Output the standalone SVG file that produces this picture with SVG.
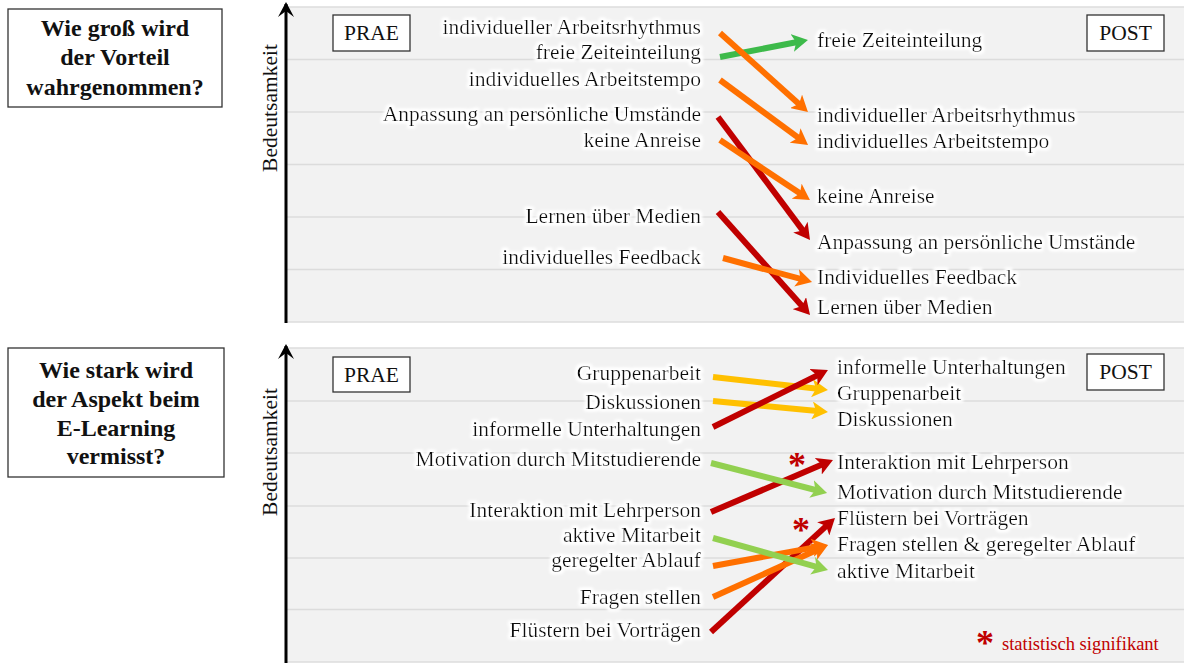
<svg xmlns="http://www.w3.org/2000/svg" width="1184" height="663" viewBox="0 0 1184 663">
<style>
.t{font-family:"Liberation Serif","Times New Roman",serif;font-size:21.5px;fill:#111}
.l{text-anchor:end}
.title{font-family:"Liberation Serif","Times New Roman",serif;font-size:24px;font-weight:bold;text-anchor:middle;fill:#111}
.box{fill:#fff;stroke:#333;stroke-width:1.3}
.grid{stroke:#dcdcdc;stroke-width:1.5}
.axis{stroke:#000;stroke-width:3;fill:none}
.a{stroke-width:6;fill:none}
.or{stroke:#ff7000}.gr{stroke:#3dba4a}.rd{stroke:#c00000}.ye{stroke:#ffc000}.lg{stroke:#92d050}
.star{font-family:"Liberation Serif","Times New Roman",serif;font-size:36px;font-weight:bold;fill:#c00000;text-anchor:middle}
</style>
<defs>
<filter id="glow" x="-10%" y="-40%" width="120%" height="180%">
<feMorphology in="SourceAlpha" operator="dilate" radius="1.5" result="d"/>
<feGaussianBlur in="d" stdDeviation="1.6" result="b"/>
<feFlood flood-color="#ffffff"/>
<feComposite in2="b" operator="in" result="g"/>
<feMerge><feMergeNode in="g"/><feMergeNode in="g"/><feMergeNode in="SourceGraphic"/></feMerge>
</filter>
<marker id="mOr" viewBox="0 0 16 18" refX="8" refY="9" markerWidth="16" markerHeight="18" markerUnits="userSpaceOnUse" orient="auto"><path d="M0,0 L16,9 L0,18 L4,9 z" fill="#ff7000"/></marker>
<marker id="mGr" viewBox="0 0 16 18" refX="8" refY="9" markerWidth="16" markerHeight="18" markerUnits="userSpaceOnUse" orient="auto"><path d="M0,0 L16,9 L0,18 L4,9 z" fill="#3dba4a"/></marker>
<marker id="mRd" viewBox="0 0 16 18" refX="8" refY="9" markerWidth="16" markerHeight="18" markerUnits="userSpaceOnUse" orient="auto"><path d="M0,0 L16,9 L0,18 L4,9 z" fill="#c00000"/></marker>
<marker id="mYe" viewBox="0 0 16 18" refX="8" refY="9" markerWidth="16" markerHeight="18" markerUnits="userSpaceOnUse" orient="auto"><path d="M0,0 L16,9 L0,18 L4,9 z" fill="#ffc000"/></marker>
<marker id="mLg" viewBox="0 0 16 18" refX="8" refY="9" markerWidth="16" markerHeight="18" markerUnits="userSpaceOnUse" orient="auto"><path d="M0,0 L16,9 L0,18 L4,9 z" fill="#92d050"/></marker>
<marker id="ax" viewBox="0 0 16 16" refX="8" refY="2" markerWidth="16" markerHeight="16" markerUnits="userSpaceOnUse" orient="0"><path d="M0,15 L8,0 L16,15 L8,9 z" fill="#000"/></marker>
</defs>
<rect width="1184" height="663" fill="#fff"/>

<g id="panel-top">
<rect x="287" y="7" width="897" height="315" fill="#f2f2f2"/>
<g class="grid">
<line x1="287" y1="7" x2="1184" y2="7"/><line x1="287" y1="59.5" x2="1184" y2="59.5"/><line x1="287" y1="112" x2="1184" y2="112"/><line x1="287" y1="164.5" x2="1184" y2="164.5"/><line x1="287" y1="217" x2="1184" y2="217"/><line x1="287" y1="269.5" x2="1184" y2="269.5"/><line x1="287" y1="322" x2="1184" y2="322"/>
</g>
<line class="axis" x1="286" y1="323" x2="286" y2="4" marker-end="url(#ax)"/>
<text class="t" transform="translate(277,108) rotate(-90)" text-anchor="middle">Bedeutsamkeit</text>
</g>

<g id="panel-bottom">
<rect x="287" y="348" width="897" height="314" fill="#f2f2f2"/>
<g class="grid">
<line x1="287" y1="348" x2="1184" y2="348"/><line x1="287" y1="401" x2="1184" y2="401"/><line x1="287" y1="453" x2="1184" y2="453"/><line x1="287" y1="506" x2="1184" y2="506"/><line x1="287" y1="558" x2="1184" y2="558"/><line x1="287" y1="609.5" x2="1184" y2="609.5"/><line x1="287" y1="662" x2="1184" y2="662"/>
</g>
<line class="axis" x1="286" y1="663" x2="286" y2="346" marker-end="url(#ax)"/>
<text class="t" transform="translate(277,452) rotate(-90)" text-anchor="middle">Bedeutsamkeit</text>
</g>

<g id="question-1">
<rect class="box" x="8" y="9" width="214" height="98"/>
<text class="title" x="115" y="36">Wie groß wird</text>
<text class="title" x="115" y="65">der Vorteil</text>
<text class="title" x="115" y="95">wahrgenommen?</text>
</g>
<g id="question-2">
<rect class="box" x="8" y="348" width="216" height="129"/>
<text class="title" x="116" y="378">Wie stark wird</text>
<text class="title" x="116" y="407">der Aspekt beim</text>
<text class="title" x="116" y="436">E-Learning</text>
<text class="title" x="116" y="464">vermisst?</text>
</g>

<g id="prae-1"><rect class="box" x="333" y="15" width="77" height="36"/><text class="t" x="371.5" y="40" text-anchor="middle">PRAE</text></g>
<g id="post-1"><rect class="box" x="1087" y="15" width="77" height="36"/><text class="t" x="1125.5" y="40" text-anchor="middle">POST</text></g>
<g id="prae-2"><rect class="box" x="333" y="357" width="77" height="35"/><text class="t" x="371.5" y="382" text-anchor="middle">PRAE</text></g>
<g id="post-2"><rect class="box" x="1087" y="354" width="77" height="36"/><text class="t" x="1125.5" y="379" text-anchor="middle">POST</text></g>

<g id="connectors">
<line class="a gr" x1="720" y1="57" x2="800.1" y2="41.5" marker-end="url(#mGr)"/>
<line class="a or" x1="720" y1="33" x2="802" y2="106.7" marker-end="url(#mOr)"/>
<line class="a or" x1="720" y1="80" x2="801.6" y2="140.2" marker-end="url(#mOr)"/>
<line class="a rd" x1="718" y1="117" x2="805.2" y2="233.6" marker-end="url(#mRd)"/>
<line class="a or" x1="720" y1="140" x2="803.3" y2="195.6" marker-end="url(#mOr)"/>
<line class="a rd" x1="718" y1="212" x2="804.7" y2="309" marker-end="url(#mRd)"/>
<line class="a or" x1="723" y1="258" x2="804.3" y2="279.9" marker-end="url(#mOr)"/>

<line class="a ye" x1="713" y1="377" x2="820" y2="389.1" marker-end="url(#mYe)"/>
<line class="a ye" x1="713" y1="401" x2="820" y2="411.2" marker-end="url(#mYe)"/>
<line class="a rd" x1="713" y1="427" x2="820.8" y2="373.6" marker-end="url(#mRd)"/>
<line class="a rd" x1="711" y1="512" x2="825.6" y2="463.1" marker-end="url(#mRd)"/>
<line class="a lg" x1="711" y1="463" x2="819.3" y2="491" marker-end="url(#mLg)"/>
<line class="a rd" x1="711" y1="632" x2="829.1" y2="523.4" marker-end="url(#mRd)"/>
<line class="a or" x1="713" y1="566" x2="820.1" y2="546.4" marker-end="url(#mOr)"/>
<line class="a or" x1="713" y1="597" x2="820.7" y2="548.3" marker-end="url(#mOr)"/>
<line class="a lg" x1="713" y1="538" x2="820.3" y2="567.9" marker-end="url(#mLg)"/>
</g>

<g id="labels-prae-1" filter="url(#glow)">
<text class="t l" x="701" y="34">individueller Arbeitsrhythmus</text>
<text class="t l" x="701" y="59">freie Zeiteinteilung</text>
<text class="t l" x="701" y="86">individuelles Arbeitstempo</text>
<text class="t l" x="701" y="121">Anpassung an persönliche Umstände</text>
<text class="t l" x="701" y="147">keine Anreise</text>
<text class="t l" x="701" y="223">Lernen über Medien</text>
<text class="t l" x="701" y="264">individuelles Feedback</text>
</g>
<g id="labels-post-1" filter="url(#glow)">
<text class="t" x="817" y="47">freie Zeiteinteilung</text>
<text class="t" x="817" y="122">individueller Arbeitsrhythmus</text>
<text class="t" x="817" y="148">individuelles Arbeitstempo</text>
<text class="t" x="817" y="203">keine Anreise</text>
<text class="t" x="817" y="249">Anpassung an persönliche Umstände</text>
<text class="t" x="817" y="284">Individuelles Feedback</text>
<text class="t" x="817" y="314">Lernen über Medien</text>
</g>
<g id="labels-prae-2" filter="url(#glow)">
<text class="t l" x="701" y="380">Gruppenarbeit</text>
<text class="t l" x="701" y="409">Diskussionen</text>
<text class="t l" x="701" y="436">informelle Unterhaltungen</text>
<text class="t l" x="701" y="466">Motivation durch Mitstudierende</text>
<text class="t l" x="701" y="517">Interaktion mit Lehrperson</text>
<text class="t l" x="701" y="542">aktive Mitarbeit</text>
<text class="t l" x="701" y="567">geregelter Ablauf</text>
<text class="t l" x="701" y="604">Fragen stellen</text>
<text class="t l" x="701" y="637">Flüstern bei Vorträgen</text>
</g>
<g id="labels-post-2" filter="url(#glow)">
<text class="t" x="837" y="374">informelle Unterhaltungen</text>
<text class="t" x="837" y="400">Gruppenarbeit</text>
<text class="t" x="837" y="426">Diskussionen</text>
<text class="t" x="837" y="469">Interaktion mit Lehrperson</text>
<text class="t" x="837" y="499">Motivation durch Mitstudierende</text>
<text class="t" x="837" y="525">Flüstern bei Vorträgen</text>
<text class="t" x="837" y="551">Fragen stellen &amp; geregelter Ablauf</text>
<text class="t" x="837" y="578">aktive Mitarbeit</text>
</g>

<g id="significance">
<text class="star" x="797" y="477">*</text>
<text class="star" x="801" y="542">*</text>
<text class="star" x="985" y="655" font-size="32">*</text>
<text x="1002" y="650" font-family="Liberation Serif, Times New Roman, serif" font-size="18.5" fill="#c00000">statistisch signifikant</text>
</g>
</svg>
